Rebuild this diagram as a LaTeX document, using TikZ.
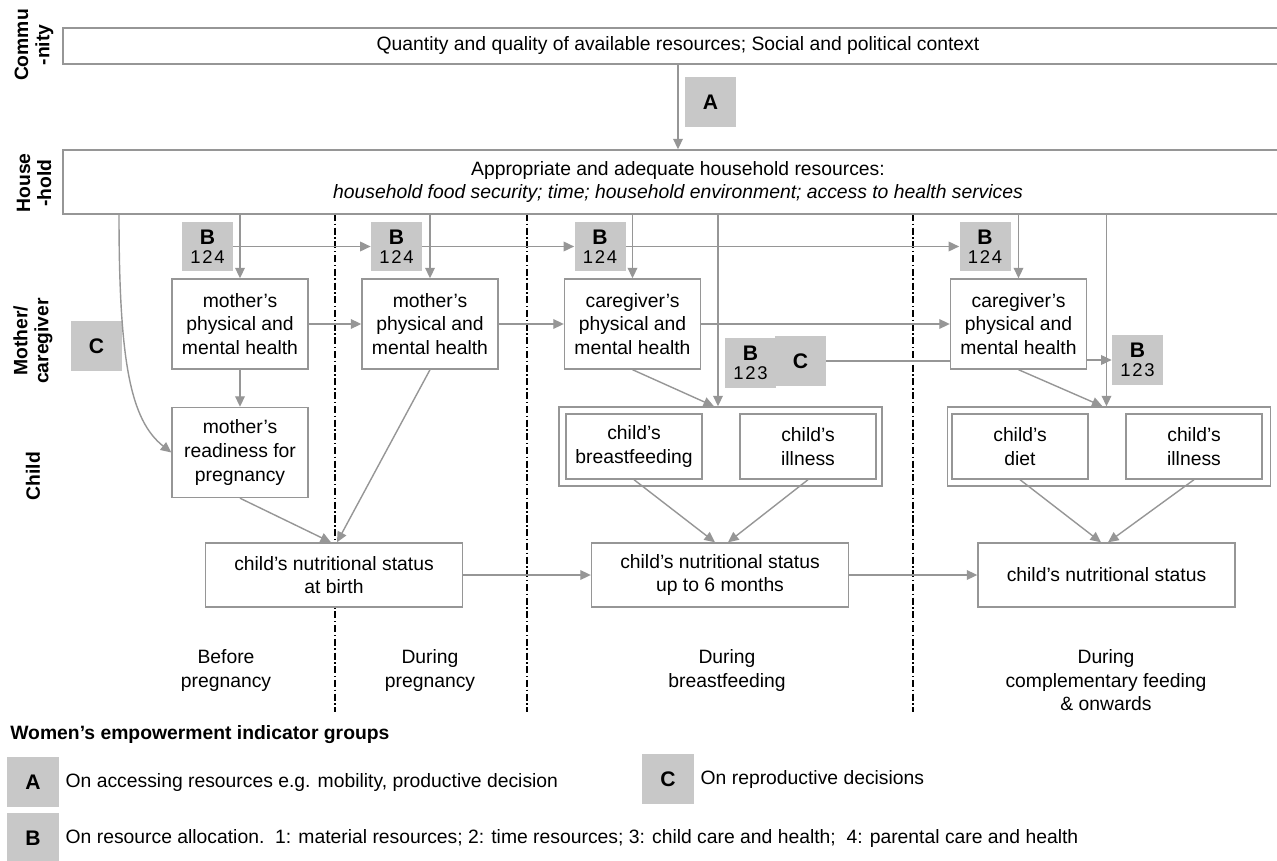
\documentclass[tikz,border=0pt]{standalone}
\usepackage{fontspec}
\setmainfont{Liberation Sans}
\usetikzlibrary{arrows.meta,positioning}
\definecolor{linegray}{RGB}{150,150,150}
\definecolor{tagfill}{RGB}{200,200,200}
\newcommand{\bodysize}{\fontsize{11}{13.5}\selectfont}
\newcommand{\tagB}[1]{B\\[-2pt]{\mdseries\fontsize{10.5}{11}\selectfont #1}}
\tikzset{
      arr/.style = {-{Triangle[length=6pt,width=5.5pt]}, draw=linegray, line width=0.8pt},
     link/.style = {draw=linegray, line width=0.8pt},
      box/.style = {draw=linegray, line width=0.8pt, fill=white, align=center,
                    font=\bodysize, inner sep=1pt},
   health/.style = {box, minimum width=2.72cm, minimum height=1.8cm},
   factor/.style = {box, minimum width=2.72cm, minimum height=1.3cm},
   status/.style = {box, minimum width=5.14cm, minimum height=1.28cm},
    group/.style = {draw=linegray, line width=0.8pt, fill=white,
                    minimum width=6.46cm, minimum height=1.58cm},
      tag/.style = {fill=tagfill, align=center, inner sep=0pt,
                    minimum width=1.02cm, minimum height=1cm,
                    font=\fontsize{12}{13}\selectfont\bfseries},
    phase/.style = {align=center, anchor=north, inner sep=0pt, font=\bodysize},
     lane/.style = {rotate=90, align=center, inner sep=0pt,
                    font=\fontsize{11}{12}\selectfont\bfseries},
   period/.style = {line width=0.6pt, dash pattern=on 4pt off 1.5pt on 0.8pt off 1.5pt},
   legend/.style = {anchor=west, inner sep=0pt, font=\bodysize},
}

\begin{document}
\begin{tikzpicture}[x=0.02cm, y=-0.02cm]
\useasboundingbox (0,0) rectangle (1277,861);

% periods
\foreach \px in {335,527,913}
  \draw[period] (\px,214) -- (\px,712);

% lanes
\node[lane] (lcomm) at (34,45) {Commu\\-nity};
\node[lane] (lhouse) at (34,183) {House\\-hold};
\node[lane] (lmother) at (33,341) {Mother/\\caregiver};
\node[lane] (lchild) at (33,476) {Child};

% community and household
\node[box, minimum width=24.6cm, minimum height=0.72cm] (comm) at (678,46)
  {Quantity and quality of available resources; Social and political context};
\node[box, minimum width=24.6cm, minimum height=1.28cm] (hh) at (678,182)
  {Appropriate and adequate household resources:\\
   \textit{household food security; time; household environment; access to health services}};
\node[tag] (tagA) at (710.5,102) {A};

% mother / caregiver
\node[tag] (b1) at (207.5,246.5) {\tagB{1\kern1pt2\kern1pt4}};
\node[tag] (b2) at (396.5,246.5) {\tagB{1\kern1pt2\kern1pt4}};
\node[tag] (b3) at (600,246.5) {\tagB{1\kern1pt2\kern1pt4}};
\node[tag] (b4) at (985,246.5) {\tagB{1\kern1pt2\kern1pt4}};
\node[health] (m1) at (240,324) {mother's\\physical and\\mental health};
\node[health] (m2) at (430,324) {mother's\\physical and\\mental health};
\node[health] (m3) at (632.5,324) {caregiver's\\physical and\\mental health};
\node[health] (m4) at (1018.5,324) {caregiver's\\physical and\\mental health};
\node[tag] (cleft) at (96.5,346) {C};
\node[tag] (bmid) at (750.5,363) {\tagB{1\kern1pt2\kern1pt3}};
\node[tag] (cmid) at (800.5,361) {C};
\node[tag] (bright) at (1137.5,360) {\tagB{1\kern1pt2\kern1pt3}};

% child
\node[health] (ready) at (240,452.5) {mother's\\readiness for\\pregnancy};
\node[group] (g1) at (720.5,446.5) {};
\node[factor] (bf) at (634,446.5) {child's\\breastfeeding};
\node[factor] (ill1) at (808,446.5) {child's\\illness};
\node[group] (g2) at (1109,446.5) {};
\node[factor] (diet) at (1020,446.5) {child's\\diet};
\node[factor] (ill2) at (1194,446.5) {child's\\illness};
\node[status] (birth) at (334,575) {child's nutritional status\\at birth};
\node[status] (six) at (720,575) {child's nutritional status\\up to 6 months};
\node[status] (stat) at (1106.5,575) {child's nutritional status};

% arrows
\draw[arr] (comm.south) -- (hh.north);
\foreach \m in {m1,m2,m3,m4}
  \draw[arr] (hh.south -| \m.north) -- (\m.north);
\draw[arr] (b1.east) -- (b2.west);
\draw[arr] (b2.east) -- (b3.west);
\draw[arr] (b3.east) -- (b4.west);
\draw[arr] (m1.east) -- (m2.west);
\draw[arr] (m2.east) -- (m3.west);
\draw[arr] (m3.east) -- (m4.west);
\draw[arr] (m1.south) -- (ready.north);
\coordinate (hfar) at (119,214);
\draw[arr] (hfar) .. controls (119,360) and (130,420) .. (ready.west);
\draw[arr] (ready.south) -- ([xshift=-0.06cm]birth.north);
\draw[arr] (m2.south) -- ([xshift=0.06cm]birth.north);
\draw[arr] ([xshift=-0.05cm]hh.south -| g1.north) -- ([xshift=-0.05cm]g1.north);
\draw[arr] (m3.south) -- ([xshift=-0.13cm]g1.north);
\draw[arr] ([xshift=-0.05cm]hh.south -| g2.north) -- ([xshift=-0.05cm]g2.north);
\draw[arr] (m4.south) -- ([xshift=-0.13cm]g2.north);
\draw[link] (cmid.east) -- (cmid.east -| m4.west);
\draw[arr] (bright.west -| m4.east) -- (bright.west);
\draw[arr] (bf.south) -- ([xshift=-0.1cm]six.north);
\draw[arr] (ill1.south) -- ([xshift=0.16cm]six.north);
\draw[arr] (diet.south) -- ([xshift=-0.11cm]stat.north);
\draw[arr] (ill2.south) -- ([xshift=0.03cm]stat.north);
\draw[arr] (birth.east) -- (six.west);
\draw[arr] (six.east) -- (stat.west);

% phases
\node[phase] (p1) at (226,649) {Before\\pregnancy};
\node[phase] (p2) at (430,649) {During\\pregnancy};
\node[phase] (p3) at (727,649) {During\\breastfeeding};
\node[phase] (p4) at (1106,649) {During\\complementary feeding\\\& onwards};

% legend
\node[legend, font=\bodysize\bfseries] (ltitle) at (10,735) {Women's empowerment indicator groups};
\node[tag, minimum width=1.04cm] (la) at (33,782) {A};
\node[legend, right=0.12cm of la] (lta) {On accessing resources e.g. mobility, productive decision};
\node[tag, minimum width=1.04cm] (lc) at (668,779) {C};
\node[legend, right=0.12cm of lc] (ltc) {On reproductive decisions};
\node[tag, minimum width=1.04cm] (lb) at (33,838) {B};
\node[legend, right=0.12cm of lb] (ltb) {On resource allocation.\ \ 1: material resources; 2: time resources; 3: child care and health;\ \ 4: parental care and health};
\end{tikzpicture}
\end{document}
